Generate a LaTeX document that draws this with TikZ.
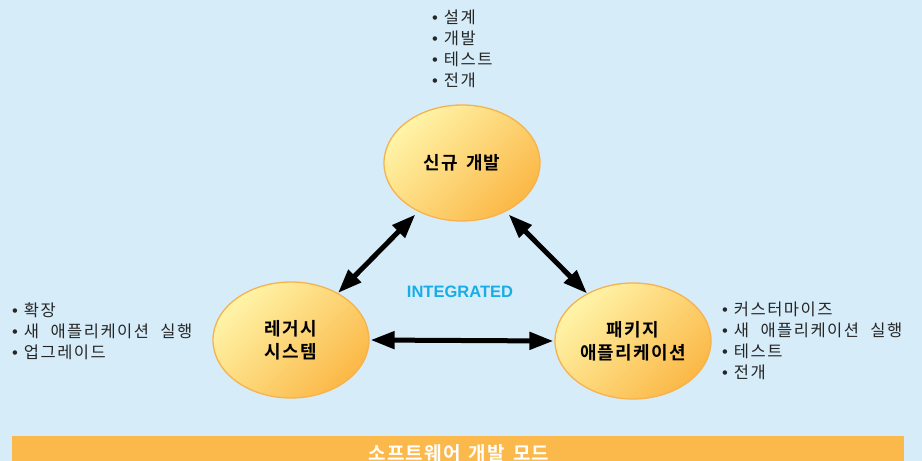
\documentclass[tikz,border=0pt]{standalone}
\usepackage{fontspec}
\setmainfont{Noto Sans CJK KR}
\newfontfamily\lat{Liberation Sans}
\newfontfamily\krlist[LetterSpace=9,WordSpace=2.2]{Noto Sans CJK KR}
\newfontfamily\krbold[LetterSpace=7,WordSpace=1.5,UprightFont=* Bold]{Noto Sans CJK KR}
\newfontfamily\krbar[LetterSpace=6,WordSpace=1.5,UprightFont=* Bold]{Noto Sans CJK KR}
\usetikzlibrary{arrows.meta,shapes.geometric}
\definecolor{bg}{HTML}{D6EDF9}
\definecolor{blobA}{HTML}{FFF4A8}
\definecolor{blobB}{HTML}{FBB847}
\definecolor{blobline}{HTML}{F6B24C}
\definecolor{barc}{HTML}{FBB94B}
\definecolor{integ}{HTML}{17ADE6}
\definecolor{txt}{HTML}{262626}
\newcommand{\bul}{{\lat •}\hspace{6pt}}
\begin{document}
\begin{tikzpicture}[x=1pt,y=-1pt,
  blob/.style={ellipse, draw=blobline, line width=1.3pt, minimum width=156pt, minimum height=116pt, inner sep=0pt,
    top color=blobA, bottom color=blobB, shading angle=45, align=center,
    font=\krbold\fontsize{18}{23}\selectfont, text=black},
  conn/.style={line width=5pt, {Triangle[length=24pt,width=17pt]}-{Triangle[length=24pt,width=17pt]}},
  list/.style={anchor=west, inner sep=0pt, align=left, text=txt, font=\krlist\fontsize{16.5}{21}\selectfont}]
\fill[bg] (0,0) rectangle (922,461);
\useasboundingbox (0,0) rectangle (922,461);
\node[blob] (top) at (462,163) {신규 개발};
\node[blob] (left) at (291,340) {레거시\\시스템};
\node[blob] (right) at (633,341) {패키지\\애플리케이션};
\draw[conn, shorten >=4pt] (left.45) -- (top.228);
\draw[conn, shorten <=4pt] (top.312) -- (right.134);
\draw[conn, shorten <=1pt, shorten >=1pt] (left.0) -- (right.180);
\node[text=integ, font=\lat\fontsize{16.5}{18}\selectfont\bfseries] (integ) at (460,292) {INTEGRATED};
\node[list] (toplist) at (432,49) {\bul 설계\\\bul 개발\\\bul 테스트\\\bul 전개};
\node[list] (leftlist) at (12,331) {\bul 확장\\\bul 새 애플리케이션 실행\\\bul 업그레이드};
\node[list] (rightlist) at (722,341) {\bul 커스터마이즈\\\bul 새 애플리케이션 실행\\\bul 테스트\\\bul 전개};
\fill[barc] (12,436) rectangle (904,461);
\node[text=white, font=\krbar\fontsize{19}{20}\selectfont] (bar) at (459,453) {소프트웨어 개발 모드};
\end{tikzpicture}
\end{document}
